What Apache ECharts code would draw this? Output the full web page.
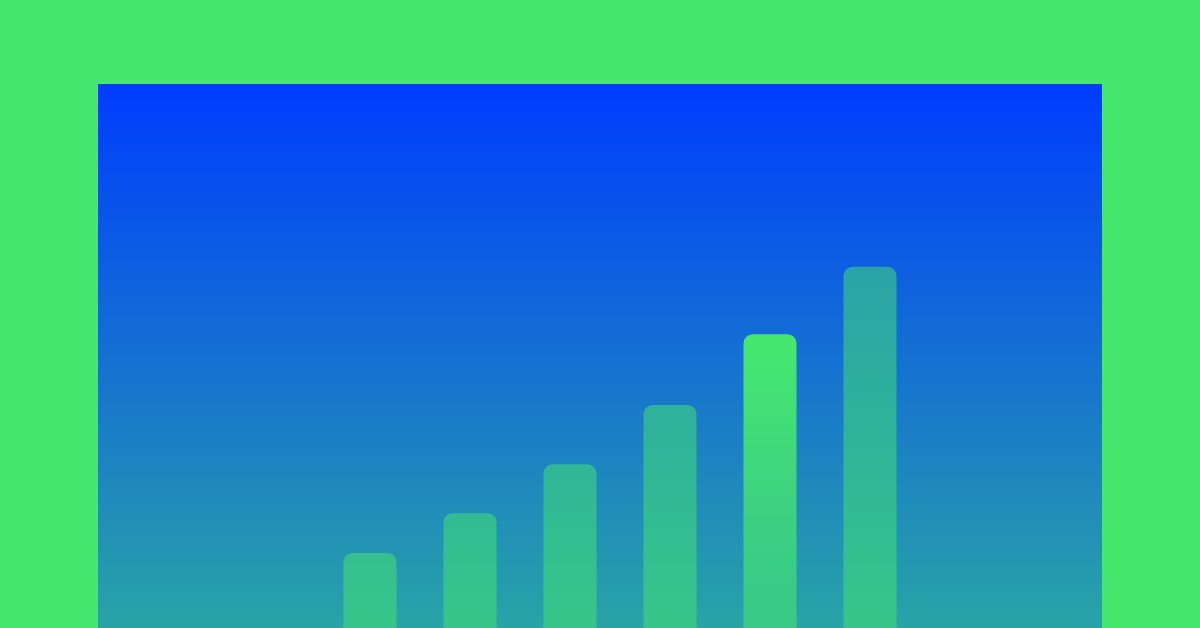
<!DOCTYPE html>
<html>
<head>
<meta charset="utf-8">
<script src="https://cdn.jsdelivr.net/npm/echarts@6/dist/echarts.min.js"></script>
<style>
  html, body { margin: 0; padding: 0; background: #45e86e; }
  #chart { width: 1200px; height: 628px; }
</style>
</head>
<body>
<div id="chart"></div>
<script>
// bar heights, as a share of the panel height (0-100)
const categories = ['1', '2', '3', '4', '5', '6'];
const values = [13.8, 21.1, 30.1, 41.0, 54.0, 66.4];
const highlightIndex = 4;

const chart = echarts.init(document.getElementById('chart'));

const dimBar = 'rgba(69, 232, 110, 0.5)';
const brightBar = new echarts.graphic.LinearGradient(0, 0, 0, 1, [
    { offset: 0, color: 'rgba(69, 232, 110, 1)' },
    { offset: 0.3, color: 'rgba(69, 232, 110, 0.9)' },
    { offset: 1, color: 'rgba(69, 232, 110, 0.55)' }
]);

chart.setOption({
    backgroundColor: '#45e86e',
    animation: false,
    graphic: [{
        type: 'rect',
        z: -10,
        shape: { x: 98, y: 84, width: 1004, height: 544 },
        style: {
            fill: new echarts.graphic.LinearGradient(0, 0, 0, 1, [
                { offset: 0, color: '#003cff' },
                { offset: 1, color: '#29a4a6' }
            ])
        }
    }],
    grid: { left: 320, right: 280, top: 84, bottom: 0 },
    xAxis: {
        type: 'category',
        data: categories,
        show: false
    },
    yAxis: {
        type: 'value',
        min: 0,
        max: 100,
        show: false
    },
    series: [{
        type: 'bar',
        barWidth: 53,
        data: values.map((v, i) => ({
            value: v,
            itemStyle: { color: i === highlightIndex ? brightBar : dimBar }
        })),
        itemStyle: { borderRadius: [9, 9, 0, 0] }
    }]
});
</script>
</body>
</html>
